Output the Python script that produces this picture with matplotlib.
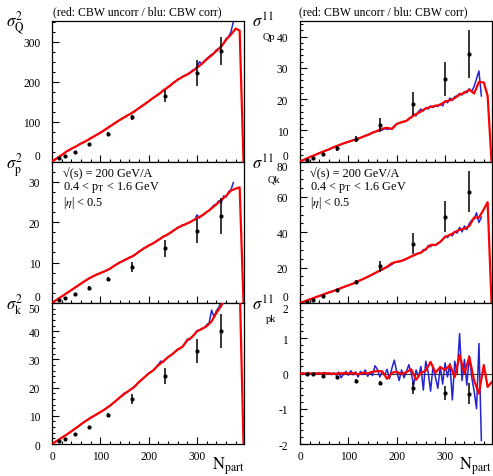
import matplotlib
matplotlib.use("Agg")
import matplotlib.pyplot as plt
from matplotlib.ticker import MultipleLocator

plt.rcParams["font.family"] = ["Liberation Serif", "DejaVu Serif"]
plt.rcParams["mathtext.fontset"] = "stix"

W, H = 493, 477
RED = "#ff0000"
BLUE = "#2424d0"

# Npart of the measured centrality classes
npart_data = [14, 27, 47, 76, 115, 166, 234, 299, 350]

# Npart grids of the two CBW curves
npart_red = [0, 10, 20, 30, 40, 50, 60, 70, 80, 90,
             100, 110, 120, 130, 140, 150, 160, 170, 180, 190,
             200, 210, 220, 230, 240, 250, 260, 270, 280, 290,
             300, 310, 320, 330, 340, 350, 360, 370, 380, 388, 396]
npart_blue = [0, 5, 10, 15, 20, 25, 30, 35, 40, 45,
              50, 55, 60, 65, 70, 75, 80, 85, 90, 95,
              100, 105, 110, 115, 120, 125, 130, 135, 140, 145,
              150, 155, 160, 165, 170, 175, 180, 185, 190, 195,
              200, 205, 210, 215, 220, 225, 230, 235, 240, 245,
              250, 255, 260, 265, 270, 275, 280, 285, 290, 295,
              300, 305, 310, 315, 320, 325, 330, 335, 340, 345,
              350, 355, 360, 365, 370, 375]

# ---- sigma^2_Q ----
q2_val = [8.5, 15, 25, 44, 69, 111, 165, 222, 277]
q2_err = [1, 1.5, 2, 3, 4, 6, 15, 32, 34]
q2_red = [0, 8, 16, 25, 32, 38, 45, 51, 58, 65,
          72, 80, 88, 96, 104, 111, 118, 125, 134, 142,
          151, 160, 168, 178, 186, 196, 205, 212, 218, 226,
          235, 245, 256, 266, 277, 288, 305, 318, 333, 328, 0]
q2_blue = [0, 4, 8, 12, 16, 20, 25, 28, 32, 35,
           38, 42, 45, 48, 51, 55, 59, 62, 66, 69,
           73, 76, 80, 84, 89, 92, 97, 100, 104, 108,
           111, 115, 118, 121, 126, 130, 134, 138, 143, 147,
           151, 156, 160, 164, 169, 172, 178, 182, 187, 190,
           197, 200, 206, 208, 213, 216, 219, 222, 228, 231,
           237, 250, 244, 252, 258, 263, 268, 272, 280, 283,
           290, 296, 308, 312, 325, 350]

# ---- sigma^11_Qp ----
qp_val = [0.6, 1.2, 2.4, 4.3, 7.2, 11.7, 18.5, 26.5, 34.5]
qp_err = [0.2, 0.3, 0.4, 0.8, 0.9, 2.1, 3.7, 5.4, 7.7]
qp_red = [0, 0.7, 1.4, 2.0, 2.7, 3.3, 3.9, 4.6, 5.2, 5.8,
          6.3, 6.8, 7.3, 7.9, 8.5, 9.2, 9.8, 10.5, 10.8, 10.4,
          12.0, 12.6, 13.0, 14.2, 15.2, 16.0, 17.0, 17.5, 17.8, 18.2,
          19.2, 19.6, 20.3, 21.4, 22.0, 23.0, 21.8, 25.5, 25.3, 21.0, 0]
qp_blue = [0, 0.35, 0.7, 1.05, 1.4, 1.7, 2.0, 2.4, 2.7, 3.0,
           3.3, 3.6, 3.9, 4.3, 4.6, 4.9, 5.2, 5.5, 5.8, 6.1,
           6.3, 6.6, 6.9, 7.0, 7.4, 7.6, 7.9, 8.3, 8.5, 8.8,
           9.3, 9.5, 9.7, 10.2, 10.0, 10.6, 10.3, 10.5, 10.6, 11.4,
           12.1, 12.4, 12.5, 12.8, 13.0, 13.8, 14.0, 15.2, 14.6, 16.0,
           16.8, 16.2, 17.2, 16.8, 17.8, 17.3, 18.0, 17.6, 18.4, 17.8,
           19.4, 18.8, 20.3, 19.5, 20.8, 21.0, 21.8, 21.3, 22.4, 22.0,
           23.3, 22.5, 24.0, 26.5, 29.0, 21.0]

# ---- sigma^2_p ----
p2_val = [0.8, 1.3, 2.3, 3.7, 6.0, 8.9, 13.5, 17.9, 21.5]
p2_err = [0.1, 0.15, 0.2, 0.4, 0.5, 1.2, 2.1, 3.0, 4.5]
p2_red = [0, 0.8, 1.6, 2.4, 3.2, 4.0, 4.8, 5.6, 6.3, 6.9,
          7.4, 7.9, 8.5, 9.3, 10.0, 10.6, 11.2, 11.8, 12.7, 13.5,
          14.2, 14.8, 15.6, 16.4, 17.0, 17.8, 18.6, 19.2, 19.7, 20.3,
          21.0, 21.6, 22.5, 23.4, 24.4, 25.5, 26.5, 27.8, 28.3, 28.6, 0]
p2_blue = [0, 0.4, 0.8, 1.2, 1.6, 2.0, 2.4, 2.8, 3.2, 3.6,
           4.0, 4.4, 4.8, 5.2, 5.6, 6.0, 6.3, 6.6, 6.9, 7.2,
           7.4, 7.7, 7.9, 8.2, 8.5, 8.9, 9.3, 9.7, 10.1, 10.3,
           10.7, 10.9, 11.3, 11.4, 11.9, 12.2, 12.8, 13.1, 13.6, 13.8,
           14.3, 14.5, 14.9, 15.2, 15.7, 15.9, 16.5, 16.6, 17.1, 17.3,
           17.9, 18.2, 18.7, 18.8, 19.3, 19.3, 19.8, 19.9, 20.4, 20.5,
           21.8, 21.0, 21.7, 21.9, 22.6, 22.8, 23.6, 24.2, 24.5, 25.3,
           24.8, 26.5, 26.2, 27.5, 28.0, 29.8]

# ---- sigma^11_Qk ----
qk_val = [0.7, 1.9, 4.1, 7.3, 12.0, 20.7, 33.6, 48.8, 62.9]
qk_err = [0.3, 0.4, 0.5, 0.8, 1.2, 3.0, 5.8, 8.6, 11.7]
qk_red = [0, 1.0, 2.0, 3.0, 4.0, 5.0, 6.0, 6.9, 7.9, 9.0,
          10.0, 11.0, 12.3, 13.5, 14.8, 16.2, 17.6, 19.0, 20.5, 22.5,
          23.3, 23.8, 25.0, 26.3, 27.5, 28.5, 30.5, 32.8, 32.8, 34.5,
          37.4, 38.5, 40.0, 41.5, 42.0, 43.5, 48.3, 48.3, 53.0, 57.0, 0]
qk_blue = [0, 0.5, 1.0, 1.5, 2.0, 2.5, 3.0, 3.5, 4.0, 4.5,
           5.0, 5.5, 6.0, 6.4, 6.9, 7.4, 7.9, 8.5, 9.0, 9.5,
           10.0, 10.5, 11.0, 11.6, 12.3, 12.9, 13.5, 14.1, 14.8, 15.5,
           16.2, 16.9, 17.6, 18.4, 18.6, 19.8, 20.0, 21.0, 21.8, 22.9,
           23.3, 23.4, 24.0, 24.2, 25.0, 25.5, 26.3, 26.8, 27.8, 28.2,
           28.3, 30.2, 29.8, 32.5, 31.8, 33.2, 32.5, 33.6, 34.8, 36.0,
           37.8, 37.0, 38.8, 38.0, 40.5, 39.5, 42.8, 40.2, 43.5, 41.5,
           45.0, 46.8, 47.5, 51.0, 45.5, 48.5]

# ---- sigma^2_k ----
k2_val = [0.9, 1.8, 3.5, 6.1, 10.2, 16.1, 24.1, 33.0, 40.0]
k2_err = [0.1, 0.2, 0.3, 0.4, 0.7, 1.8, 3.0, 4.3, 6.0]
k2_red = [0, 1.1, 2.2, 3.3, 4.5, 5.7, 7.0, 8.2, 9.3, 10.3,
          11.3, 12.4, 13.6, 15.0, 16.5, 17.8, 19.0, 20.2, 22.0, 23.5,
          25.0, 26.2, 28.0, 29.3, 30.8, 32.0, 33.5, 34.5, 36.8, 38.0,
          40.0, 40.8, 41.8, 43.5, 46.5, 49.0, 52.0, 54.5, 56.5, 57.0, 0]
k2_blue = [0, 0.55, 1.1, 1.65, 2.2, 2.75, 3.3, 3.9, 4.5, 5.1,
           5.7, 6.3, 7.0, 7.6, 8.2, 8.7, 9.3, 9.8, 10.3, 10.8,
           11.3, 11.8, 12.4, 13.0, 13.6, 14.3, 15.0, 15.7, 16.5, 17.3,
           18.1, 18.3, 19.0, 19.6, 20.2, 21.1, 22.0, 22.7, 23.5, 24.3,
           25.1, 25.6, 26.2, 27.2, 28.2, 29.4, 29.0, 30.2, 30.9, 31.4,
           32.1, 32.9, 33.6, 33.8, 34.6, 35.8, 37.2, 37.0, 38.2, 39.0,
           40.2, 40.4, 41.0, 41.2, 42.3, 43.0, 47.5, 45.0, 47.3, 48.5,
           50.5, 52.0, 53.0, 54.0, 55.0, 56.0]

# ---- sigma^11_pk ----
pk_val = [0.0, -0.02, -0.06, -0.11, -0.2, -0.26, -0.4, -0.55, -0.57]
pk_err = [0.01, 0.01, 0.02, 0.03, 0.05, 0.05, 0.17, 0.2, 0.3]
pk_red = [0, 0, 0.005, 0, 0, 0.01, 0, -0.01, 0, 0.01,
          0, 0.01, -0.02, 0.02, 0, 0.05, 0.07, 0.06, -0.15, 0.02,
          0.05, -0.02, 0.04, 0.12, -0.18, 0.02, 0.08, 0.33, 0.02, 0.18,
          0.1, 0.24, -0.1, 0.52, 0.0, 0.47, -0.2, -0.57, 0.24, -0.38, -0.25]
pk_blue = [0, 0.01, -0.01, 0.01, 0.0, -0.02, 0.01, 0.0, 0.02, -0.02,
           0.03, -0.01, 0.02, -0.03, 0.02, -0.05, 0.04, -0.12, -0.02, 0.06,
           -0.05, 0.08, -0.04, 0.05, -0.1, 0.06, -0.03, 0.1, -0.08, 0.04,
           -0.06, 0.22, 0.12, -0.1, 0.05, -0.05, 0.12, -0.15, 0.15, 0.38,
           0.05, -0.2, 0.1, -0.12, 0.05, 0.25, 0.0, -0.33, 0.1, -0.1,
           0.2, -0.47, 0.35, 0.05, -0.5, 0.2, -0.1, -0.42, 0.2, -0.3,
           0.3, -0.1, 0.28, -0.75, 0.35, 0.0, 1.13, -0.2, 0.4, -0.33,
           0.5, -0.1, -0.5, -1.0, 0.85, -1.9]


def box(x0, y0, x1, y1):
    # pixel box (top-left origin) -> figure fraction rect
    return [x0 / W, 1 - y1 / H, (x1 - x0) / W, (y1 - y0) / H]


def draw_panel(ax, blue, red, val, err, ylim, yticks, yminor, bottom, first):
    ax.plot(npart_blue, blue, color=BLUE, lw=1.1, zorder=2)
    ax.plot(npart_red, red, color=RED, lw=1.6, zorder=3)
    ax.errorbar(npart_data, val, yerr=err, fmt="o", ms=2, color="black",
                elinewidth=1.1, capsize=0, zorder=4)
    ax.set_xlim(0, 397)
    ax.set_ylim(*ylim)
    ax.set_xticks([0, 100, 200, 300])
    ax.xaxis.set_minor_locator(MultipleLocator(20))
    ax.yaxis.set_minor_locator(MultipleLocator(yminor))
    ax.set_yticks(yticks)
    ax.set_yticklabels([f"{t:g}" for t in yticks])
    ax.tick_params(which="both", direction="in", top=False, right=False,
                   width=0.8, labelsize=8.3)
    ax.tick_params(which="major", length=5)
    ax.tick_params(which="minor", length=2.5)
    ax.tick_params(axis="y", pad=8.5)
    ax.tick_params(axis="x", pad=4, labelbottom=bottom)
    for sp in ax.spines.values():
        sp.set_linewidth(0.9)
    # ROOT-style: keep edge labels inside their own pad
    for t, lab in zip(yticks, ax.get_yticklabels()):
        if t == ylim[0] and not bottom:
            lab.set_va("bottom")
        if t == ylim[1] and not first:
            lab.set_va("top")


fig = plt.figure(figsize=(W / 100, H / 100), dpi=100)

rows = [(22, 162.5), (162.5, 304), (304, 445)]
cols = [(52, 244), (300, 492)]

panels = [
    (0, 0, q2_blue, q2_red, q2_val, q2_err, (0, 352), [0, 100, 200, 300], 25),
    (0, 1, qp_blue, qp_red, qp_val, qp_err, (0, 45), [0, 10, 20, 30, 40], 2),
    (1, 0, p2_blue, p2_red, p2_val, p2_err, (0, 35), [0, 10, 20, 30], 2.5),
    (1, 1, qk_blue, qk_red, qk_val, qk_err, (0, 80), [0, 20, 40, 60, 80], 5),
    (2, 0, k2_blue, k2_red, k2_val, k2_err, (0, 50), [0, 10, 20, 30, 40, 50], 2),
    (2, 1, pk_blue, pk_red, pk_val, pk_err, (-2, 2), [-2, -1, 0, 1, 2], 0.2),
]

for r, c, blue, red, val, err, ylim, yticks, yminor in panels:
    (x0, x1), (y0, y1) = cols[c], rows[r]
    ax = fig.add_axes(box(x0, y0, x1, y1))
    draw_panel(ax, blue, red, val, err, ylim, yticks, yminor,
               bottom=(r == 2), first=(r == 0))
    if r == 2 and c == 1:
        ax.axhline(0, color="#333333", lw=0.8, zorder=1)
    if r == 1:
        x_txt = 63 if c == 0 else 310
        for yy, s in [(174, "\u221a(s) = 200 GeV/A"),
                      (188, r"0.4 < p$_{\rm T}$ < 1.6 GeV"),
                      (203, r"|$\eta$| < 0.5")]:
            fig.text(x_txt / W, 1 - yy / H, s, fontsize=8.8, ha="left", va="center")

# column titles
for xc in (137, 383):
    fig.text(xc / W, 1 - 12 / H, "(red: CBW uncorr / blu: CBW corr)",
             fontsize=8.5, ha="center", va="center")

# y-axis titles (left column)
for yb, lab in [(27, r"$\sigma^{2}_{\mathrm{Q}}$"), (169, r"$\sigma^{2}_{\mathrm{p}}$"),
                (310, r"$\sigma^{2}_{\mathrm{k}}$")]:
    fig.text(6 / W, 1 - yb / H, lab, fontsize=12, ha="left", va="baseline")

# y-axis titles (right column): sigma^11 plus a lowered subscript
for yb, sub, xs, ys in [(28, "Qp", 263, 40), (170, "Qk", 268, 182), (311, "pk", 266, 322)]:
    fig.text(252 / W, 1 - yb / H, r"$\sigma^{11}$", fontsize=12, ha="left", va="baseline")
    fig.text(xs / W, 1 - ys / H, sub, fontsize=7.5, ha="left", va="baseline")

# x-axis titles
for xr in (245, 492):
    fig.text(xr / W, 1 - 470 / H, r"$\mathrm{N}_{\mathrm{part}}$", fontsize=12,
             ha="right", va="baseline")

fig.savefig("out.png", dpi=100)
